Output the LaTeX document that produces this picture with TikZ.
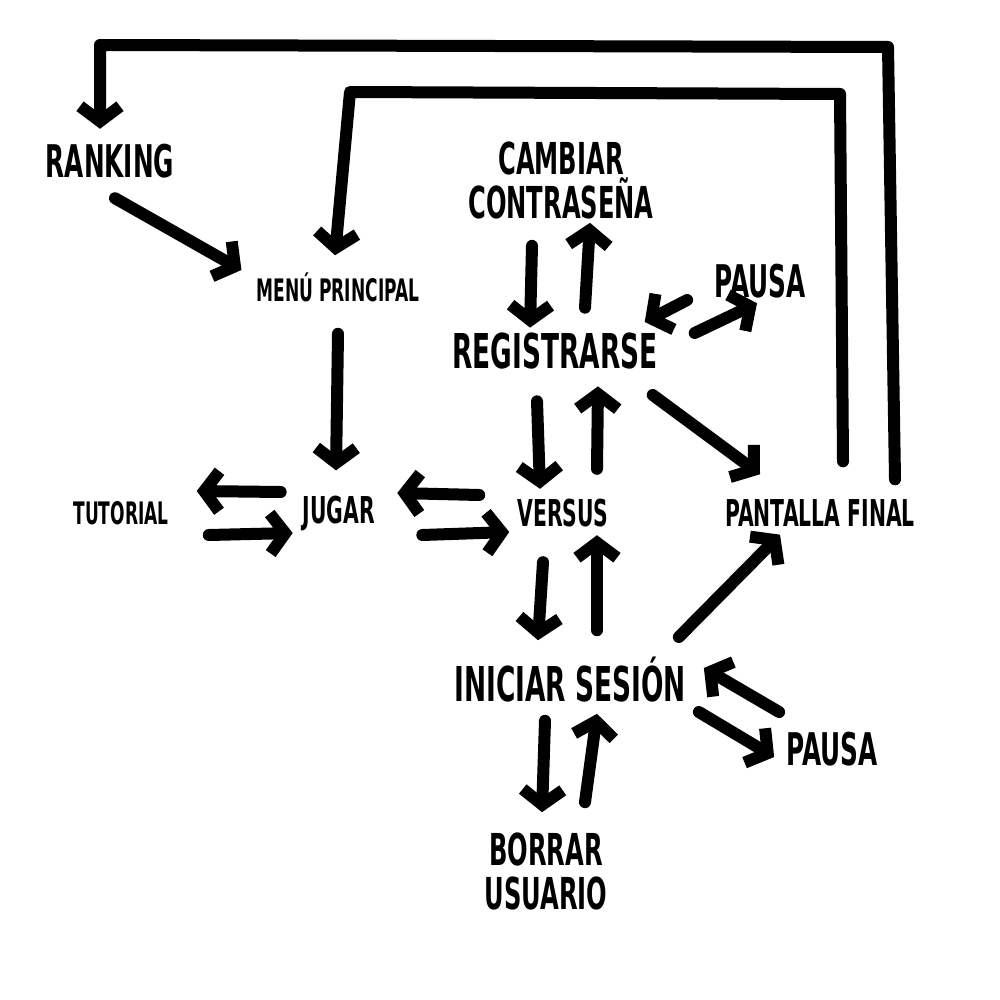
\documentclass[tikz,border=0pt]{standalone}
\usepackage{fontspec}
\newfontfamily\blockfont{DejaVu Sans}[FakeStretch=0.55]
\usetikzlibrary{arrows.meta,calc}

\begin{document}
\begin{tikzpicture}[x=1pt, y=-1pt,
		lbl/.style={inner sep=0pt, align=center, font=\blockfont\bfseries\fontsize{#1}{#1}\selectfont},
		arr/.style={line width=12pt, line cap=round, line join=round, -{Straight Barb[length=15pt, width=40pt]}}]
		
		\useasboundingbox (0,0) rectangle (1000,1000);
		
		% ==========================================
		% SCREENS
		% ==========================================
		\node[lbl=45] (rank) at (110,161) {RANKING};
		\node[lbl=31] (menu) at (338,287) {MENÚ PRINCIPAL};
		\node[lbl=44] (camb) at (561,180) {CAMBIAR\\[0pt]CONTRASEÑA};
		\node[lbl=48] (reg) at (555,351) {REGISTRARSE};
		\node[lbl=45] (pausaA) at (760,281) {PAUSA};
		
		\node[lbl=31] (tut) at (121,513) {TUTORIAL};
		\node[lbl=37] (jug) at (339,513) {JUGAR};
		\node[lbl=37] (vs) at (563,513) {VERSUS};
		\node[lbl=37] (fin) at (820,513) {PANTALLA FINAL};
		
		\node[lbl=48] (ini) at (570,680) {INICIAR SESIÓN};
		\node[lbl=45] (pausaB) at (832,749) {PAUSA};
		\node[lbl=44] (borr) at (546,871) {BORRAR\\[0pt]USUARIO};
		
		% ==========================================
		% RETURN LOOPS FROM THE FINAL SCREEN
		% ==========================================
		\draw[arr] ($(fin.north)+(75,-20)$) -- (888,47) -- (100,45) -- ($(rank.north)+(-10,-15)$);
		\draw[arr] ($(fin.north)+(23,-38)$) -- (840,94) -- (350,92) -- ($(menu.north)+(-3,-17)$);
		
		% ==========================================
		% MENU, GAME AND TUTORIAL
		% ==========================================
		\draw[arr] ($(rank.south)+(5,20)$) -- ($(menu.west)+(-15,-17)$);
		\draw[arr] ($(menu.south)+(0,32)$) -- ($(jug.north)+(-3,-25)$);
		\draw[arr] ($(jug.west)+(-22,-21)$) -- ($(tut.east)+(28,-22)$);
		\draw[arr] ($(tut.east)+(40,22)$) -- ($(jug.west)+(-10,20)$);
		\draw[arr] ($(vs.west)+(-38,-18)$) -- ($(jug.east)+(22,-20)$);
		\draw[arr] ($(jug.east)+(47,22)$) -- ($(vs.west)+(-8,19)$);
		
		% ==========================================
		% ACCOUNT SCREENS
		% ==========================================
		\draw[arr] ($(reg.south)+(-18,32)$) -- ($(vs.north)+(-23,-10)$);
		\draw[arr] ($(vs.north)+(34,-30)$) -- ($(reg.south)+(43,17)$);
		\draw[arr] ($(camb.south)+(-29,27)$) -- ($(reg.north)+(-25,-5)$);
		\draw[arr] ($(reg.north)+(30,-25)$) -- ($(camb.south)+(29,4)$);
		\draw[arr] ($(pausaA.west)+(-27,19)$) -- ($(reg.east)+(-13,-29)$);
		\draw[arr] ($(reg.east)+(37,-18)$) -- ($(pausaA.south)+(-3,5)$);
		\draw[arr] ($(reg.east)+(-5,44)$) -- ($(fin.north)+(-60,-25)$);
		
		\draw[arr] ($(vs.south)+(-20,35)$) -- ($(ini.north)+(-32,-17)$);
		\draw[arr] ($(ini.north)+(27,-27)$) -- ($(vs.south)+(34,8)$);
		\draw[arr] ($(ini.east)+(-7,-43)$) -- ($(fin.south)+(-40,8)$);
		\draw[arr] ($(pausaB.west)+(-7,-37)$) -- ($(ini.east)+(18,-12)$);
		\draw[arr] ($(ini.east)+(13,32)$) -- ($(pausaB.west)+(-12,8)$);
		\draw[arr] ($(ini.south)+(-25,18)$) -- ($(borr.north)+(-4,-20)$);
		\draw[arr] ($(borr.north)+(39,-30)$) -- ($(ini.south)+(27,11)$);
		
	\end{tikzpicture}
\end{document}
